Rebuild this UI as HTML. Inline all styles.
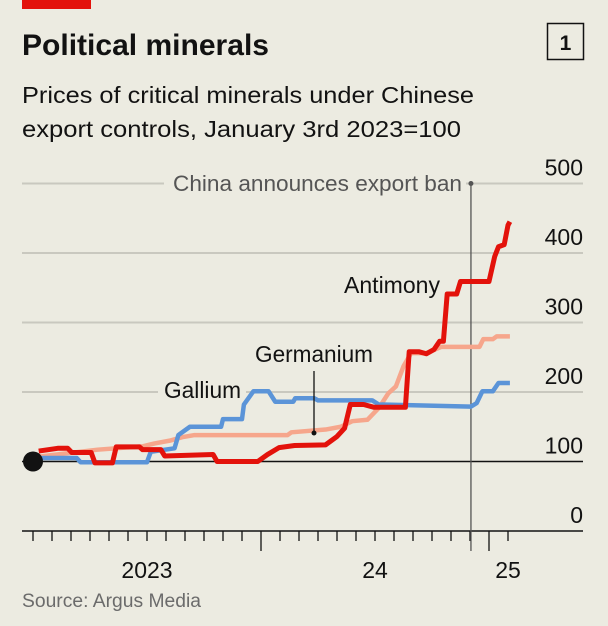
<!DOCTYPE html>
<html><head><meta charset="utf-8"><style>
html,body{margin:0;padding:0;background:#ecebe1;}
svg{display:block;font-family:"Liberation Sans",sans-serif;}
</style></head><body>
<svg id="chart" width="608" height="626" viewBox="0 0 608 626">
<rect width="608" height="626" fill="#ecebe1"/>
<rect x="22" y="0" width="69" height="9" fill="#e3120b"/>
<text x="22" y="55" font-size="30" font-weight="bold" fill="#121212" textLength="247" lengthAdjust="spacingAndGlyphs">Political minerals</text>
<rect x="547.5" y="23.5" width="36" height="36" fill="none" stroke="#121212" stroke-width="1.5"/>
<text x="565.5" y="50" font-size="21" font-weight="bold" text-anchor="middle" fill="#121212">1</text>
<text x="22" y="103" font-size="23" fill="#121212" textLength="452" lengthAdjust="spacingAndGlyphs">Prices of critical minerals under Chinese</text>
<text x="22" y="137" font-size="23" fill="#121212" textLength="439" lengthAdjust="spacingAndGlyphs">export controls, January 3rd 2023=100</text>
<g id="grid"></g>
<g id="series"></g>
<g id="annot"></g>
<text x="22" y="607" font-size="19" fill="#6b6b6b" textLength="179" lengthAdjust="spacingAndGlyphs">Source: Argus Media</text>
</svg>
<script>
const yTicks=[0,100,200,300,400,500];
const xTickMonths=[0,1,2,3,4,5,6,7,8,9,10,11,12,13,14,15,16,17,18,19,20,21,22,23,24,25];
const majorMonths=[12,24];
const xLabels=["2023","24","25"];
const xLabelMonths=[6,18,25];
const banMonth=23.05;
const antimonyM=[0.3,1.3,1.83,2.04,3.06,3.26,4.18,4.38,5.6,5.77,6.73,6.93,9.48,9.69,11.83,12.34,12.95,13.77,15.4,16.0,16.4,16.7,17.4,17.95,19.6,19.8,20.3,20.7,21.1,21.4,21.6,21.8,22.3,22.5,24.0,24.3,24.5,24.8,25.0,25.1];
const antimonyV=[115,119,119,113,113,98,98,121,121,117,117,108,110,100,100,110,120,123,124,136,148,182,182,178,178,258,258,255,261,273,273,341,341,359,359,395,409,412,440,445];
const germaniumM=[0.3,3.4,5.8,6.4,7.2,7.85,8.5,13.4,13.6,15.4,16.2,16.8,17.6,18.2,18.7,19.1,19.5,19.9,20.7,21.5,23.5,23.7,24.2,24.4,25.1];
const germaniumV=[107,117,122,126,130,135,138,138,142,146,150,158,160,177,198,208,237,256,256,265,265,276,276,280,280];
const galliumM=[0.3,2.3,2.5,6.0,6.2,7.45,7.65,8.26,9.9,10.0,11.0,11.1,11.6,12.4,12.75,13.7,13.8,14.8,15.0,17.85,18.2,23.05,23.35,23.65,24.2,24.5,25.1];
const galliumV=[105,105,99,99,114,119,138,150,150,161,161,182,201,201,186,186,191,191,188,188,182,179,184,201,201,213,213];

const NS="http://www.w3.org/2000/svg";
const X=m=>33+19*m;
const Y=v=>531-0.695*v;
function mk(tag,attrs,parent){const e=document.createElementNS(NS,tag);for(const k in attrs)e.setAttribute(k,attrs[k]);parent.appendChild(e);return e;}
const grid=document.getElementById('grid'),series=document.getElementById('series'),annot=document.getElementById('annot');
yTicks.forEach(v=>{
  const isBase=v===0||v===100;
  const l=mk('line',{x1:22,x2:583,y1:Y(v),y2:Y(v),stroke:isBase?'#121212':'#c9c8bf','stroke-width':isBase?1.5:2},grid);
  
  
  const t=mk('text',{x:583,y:Y(v)-8,'font-size':23,'text-anchor':'end',fill:'#121212'},grid);
  t.textContent=v;
  
  
});
xTickMonths.forEach(m=>{
  const tall=majorMonths.includes(m);
  const l=mk('line',{x1:X(m),x2:X(m),y1:531,y2:tall?551:541,stroke:'#121212','stroke-width':1.3},grid);
  
  
});
xLabels.forEach((s,i)=>{
  const t=mk('text',{x:X(xLabelMonths[i]),y:578,'font-size':23,'text-anchor':'middle',fill:'#121212'},grid);
  t.textContent=s;
  
  
});
// ban line
const bl=mk('line',{x1:X(banMonth),x2:X(banMonth),y1:Y(500),y2:551,stroke:'#555','stroke-width':1.3},grid);


const bd=mk('circle',{cx:X(banMonth),cy:Y(500),r:2.5,fill:'#555'},grid);


const br=mk('rect',{x:164,y:168,width:302,height:28,fill:'#ecebe1'},grid);


const bt=mk('text',{x:173,y:191,'font-size':22,fill:'#555',textLength:289,lengthAdjust:'spacingAndGlyphs'},grid);
bt.textContent='China announces export ban';


const gr=mk('rect',{x:158,y:378,width:88,height:26,fill:'#ecebe1'},grid);



function draw(M,V,color,w,name){
  const p=mk('polyline',{points:M.map((m,i)=>X(m)+','+Y(V[i])).join(' '),fill:'none',stroke:color,'stroke-width':w,'stroke-linejoin':'round','stroke-linecap':'butt'},series);
  
  
}
draw(germaniumM,germaniumV,'#f6a68c',4.5,'germanium-line');
draw(galliumM,galliumV,'#5b94d8',4.5,'gallium-line');
draw(antimonyM,antimonyV,'#e3120b',5,'antimony-line');

const sd=mk('circle',{cx:33,cy:Y(100),r:10,fill:'#121212'},annot);


const la=mk('text',{x:344,y:293,'font-size':23,fill:'#121212',textLength:96,lengthAdjust:'spacingAndGlyphs'},annot);
la.textContent='Antimony';


const lg=mk('text',{x:255,y:362,'font-size':23,fill:'#121212',textLength:118,lengthAdjust:'spacingAndGlyphs'},annot);
lg.textContent='Germanium';


const ll=mk('line',{x1:314,x2:314,y1:371,y2:433,stroke:'#121212','stroke-width':1.3},annot);


const ld=mk('circle',{cx:314,cy:433,r:2.5,fill:'#121212'},annot);


const lgl=mk('text',{x:164,y:398,'font-size':23,fill:'#121212',textLength:77,lengthAdjust:'spacingAndGlyphs'},annot);
lgl.textContent='Gallium';


</script>
</body></html>
